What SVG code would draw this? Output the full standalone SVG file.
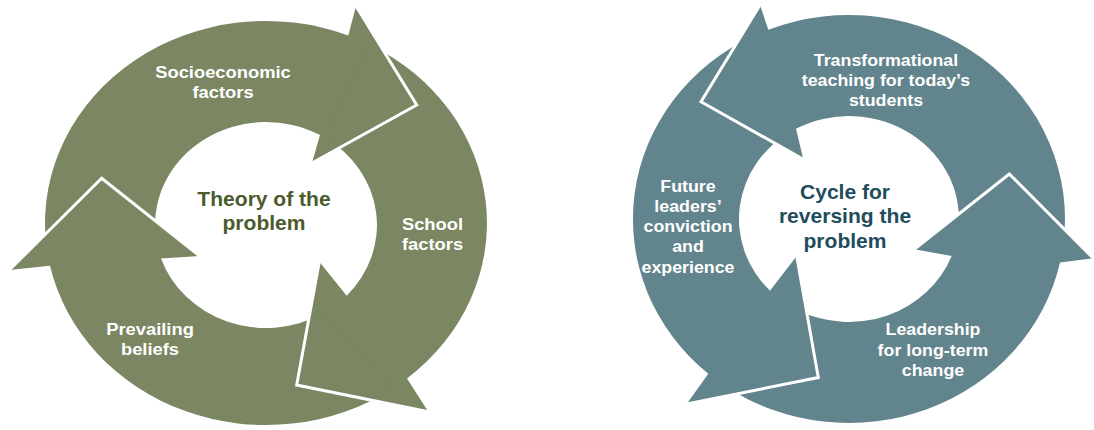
<svg xmlns="http://www.w3.org/2000/svg" width="1094" height="430" viewBox="0 0 1094 430">
<style>
.g{fill:#7b8662}
.t{fill:#62848c}
.edge{fill:none;stroke:#fff;stroke-width:3;stroke-linejoin:miter}
.lbl{font-family:"Liberation Sans",Arial,sans-serif;font-weight:bold;fill:#fff;text-anchor:middle}
.l17{font-size:17px}
.l16{font-size:16.5px}
.ctr{font-family:"Liberation Sans",Arial,sans-serif;font-weight:bold;font-size:19.5px;text-anchor:middle}
</style>
<rect width="1094" height="430" fill="#fff"/>
<g id="left-cycle">
  <g id="socioeconomic-factors">
    <path class="g" d="M45.8 239.9 A221 202 0 0 1 348.3 35.5 L356 6 L416.7 105 L312 163 L320 135 A111 103 0 0 0 155.4 233.6 Z"/>
  </g>
  <g id="school-factors">
    <path class="g" d="M369.8 44.7 A221 202 0 0 1 407 378.5 L428.3 411.7 L296.7 385 L319.3 261.7 L346.7 295.7 A111 103 0 0 0 324.8 137.7 Z"/>
  </g>
  <g id="prevailing-beliefs">
    <path class="g" d="M392.8 388.5 A221 202 0 0 1 50 265.7 L9.3 270 L101.7 178.3 L199.6 256 L161 258.4 A111 103 0 0 0 321.5 314.2 Z"/>
  </g>
</g>
<g id="right-cycle">
  <g id="transformational-teaching">
    <path class="t" d="M1062.9 247.4 A216 204 0 0 0 768.3 29.8 L760 5 L701 101.7 L803.3 159.3 L796 128.8 A110 103 0 0 1 957.9 233.3 Z"/>
  </g>
  <g id="future-leaders">
    <path class="t" d="M754.3 35.6 A216 204 0 0 0 708.3 373.8 L686.7 404 L818.3 377.5 L796.7 256 L770 290.7 A110 103 0 0 1 792.3 130.7 Z"/>
  </g>
  <g id="leadership-change">
    <path class="t" d="M725.1 386.1 A216 204 0 0 0 1060 262.6 L1093.3 258.3 L1009.3 174 L914.3 249.3 L951.7 255.9 A110 103 0 0 1 797.4 309.9 Z"/>
  </g>
</g>
<g id="connectors">
  <polyline class="edge" points="356,6 416.7,105 312,163"/>
  <polyline class="edge" points="319.3,261.7 296.7,385 428.3,411.7"/>
  <polyline class="edge" points="9.3,270 101.7,178.3 199.6,256"/>
  <polyline class="edge" points="760,5 701,101.7 803.3,159.3"/>
  <polyline class="edge" points="796.7,256 818.3,377.5 686.7,404"/>
  <polyline class="edge" points="914.3,249.3 1009.3,174 1093.3,258.3"/>
</g>
<g id="labels">
  <g id="label-socio" transform="translate(223,0) scale(1.08,1)">
    <text class="lbl l17" x="0" y="78">Socioeconomic</text>
    <text class="lbl l17" x="0" y="98">factors</text>
  </g>
  <g id="label-school" transform="translate(432.5,0) scale(1.08,1)">
    <text class="lbl l17" x="0" y="230">School</text>
    <text class="lbl l17" x="0" y="250">factors</text>
  </g>
  <g id="label-beliefs" transform="translate(150,0) scale(1.08,1)">
    <text class="lbl l17" x="0" y="335">Prevailing</text>
    <text class="lbl l17" x="0" y="355">beliefs</text>
  </g>
  <g id="center-left" transform="translate(264,0) scale(1.08,1)">
    <text class="ctr" x="0" y="206" fill="#4b5b2c">Theory of the</text>
    <text class="ctr" x="0" y="230" fill="#4b5b2c">problem</text>
  </g>
  <g id="label-transform" transform="translate(886,0) scale(1.08,1)">
    <text class="lbl l16" x="0" y="66">Transformational</text>
    <text class="lbl l16" x="0" y="86">teaching for today’s</text>
    <text class="lbl l16" x="0" y="106">students</text>
  </g>
  <g id="label-future" transform="translate(688,0) scale(1.08,1)">
    <text class="lbl l16" x="0" y="192">Future</text>
    <text class="lbl l16" x="0" y="212">leaders’</text>
    <text class="lbl l16" x="0" y="232">conviction</text>
    <text class="lbl l16" x="0" y="252">and</text>
    <text class="lbl l16" x="0" y="273">experience</text>
  </g>
  <g id="label-leadership" transform="translate(933,0) scale(1.08,1)">
    <text class="lbl l16" x="0" y="335">Leadership</text>
    <text class="lbl l16" x="0" y="356">for long-term</text>
    <text class="lbl l16" x="0" y="376">change</text>
  </g>
  <g id="center-right" transform="translate(845,0) scale(1.08,1)">
    <text class="ctr" x="0" y="199" fill="#1f4d5d">Cycle for</text>
    <text class="ctr" x="0" y="223" fill="#1f4d5d">reversing the</text>
    <text class="ctr" x="0" y="248" fill="#1f4d5d">problem</text>
  </g>
</g>
</svg>
